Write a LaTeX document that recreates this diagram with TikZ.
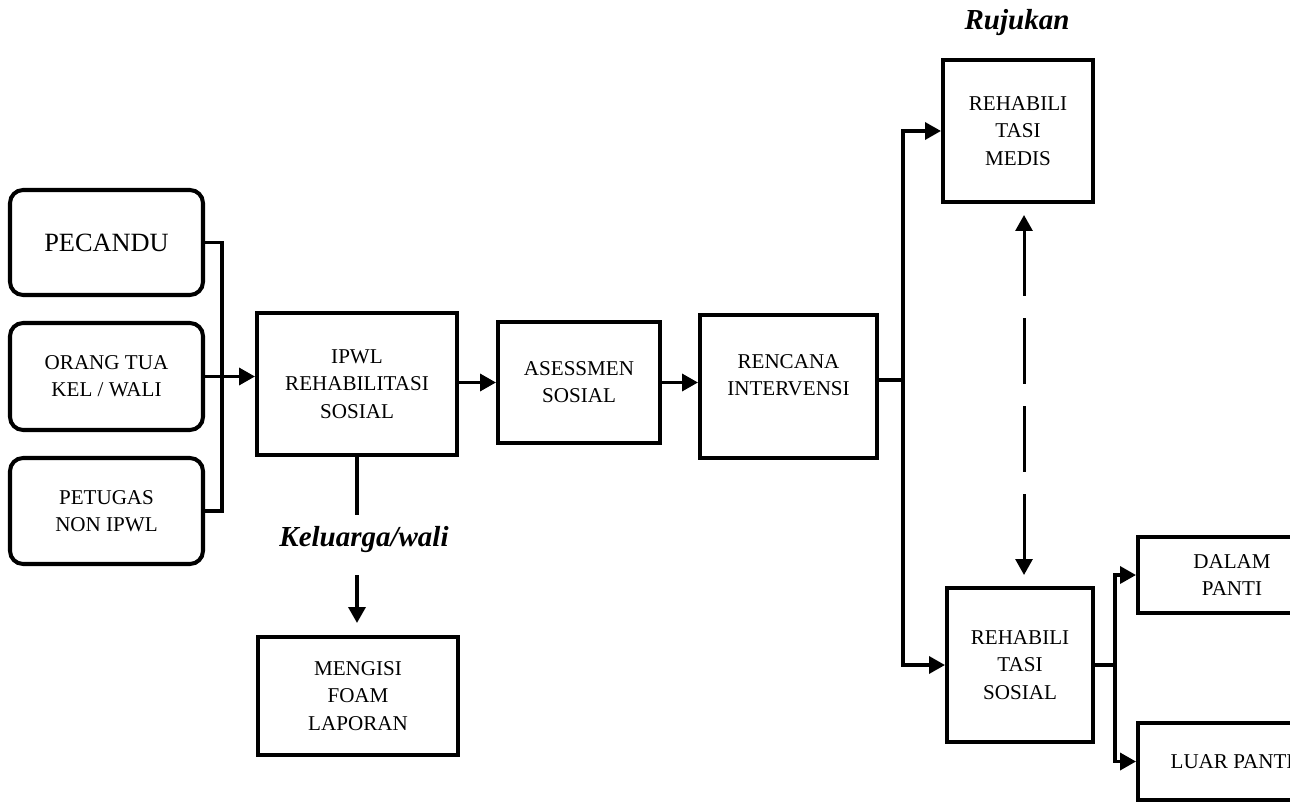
\documentclass[tikz,border=0pt]{standalone}
\usepackage{fontspec}
\setmainfont{Liberation Serif}
\usetikzlibrary{arrows.meta}
\tikzset{
	box/.style={draw, line width=2.3pt, align=center, inner sep=2pt, font=\fontsize{12}{15.5}\selectfont},
	rbox/.style={box, rounded corners=0.26cm},
	link/.style={line width=2pt},
	tag/.style={font=\fontsize{16.5}{18}\selectfont\bfseries\itshape},
}

\begin{document}
\begin{tikzpicture}[x=0.02cm, y=-0.02cm, >={Triangle[length=0.32cm,width=0.34cm]}]
			\useasboundingbox (0,0) rectangle (1290,803);
			\clip (0,0) rectangle (1290,803);
			% sources
			\node[rbox, minimum width=3.86cm, minimum height=2.1cm, font=\fontsize{15}{18}\selectfont] (PECANDU) at (106.5,242.5) {PECANDU};
			\node[rbox, minimum width=3.86cm, minimum height=2.14cm] (ORANG) at (106.5,376.5) {ORANG TUA\\KEL / WALI};
			\node[rbox, minimum width=3.86cm, minimum height=2.12cm] (PETUGAS) at (106.5,511) {PETUGAS\\NON IPWL};
			% main line
			\node[box, minimum width=4cm, minimum height=2.84cm] (IPWL) at (357,384) {IPWL\\REHABILITASI\\SOSIAL};
			\node[box, minimum width=3.24cm, minimum height=2.42cm] (ASESSMEN) at (579,382.5) {ASESSMEN\\SOSIAL};
			\node[box, minimum width=3.54cm, minimum height=2.86cm] (RENCANA) at (788.5,386.5) {RENCANA\\INTERVENSI\\[-2.5pt]\mbox{}};
			\node[box, minimum width=4cm, minimum height=2.36cm] (MENGISI) at (358,696) {MENGISI\\FOAM\\LAPORAN};
			% referral side
			\node[box, minimum width=3cm, minimum height=2.84cm] (MEDIS) at (1018,131) {REHABILI\\TASI\\MEDIS};
			\node[box, minimum width=2.92cm, minimum height=3.08cm] (SOSIAL) at (1020,665) {REHABILI\\TASI\\SOSIAL};
			\node[box, minimum width=3.76cm, minimum height=1.52cm] (DALAM) at (1232,575) {DALAM\\PANTI};
			\node[box, minimum width=3.76cm, minimum height=1.54cm] (LUAR) at (1232,761.5) {LUAR PANTI};
			% labels
			\node[tag] (rujukan) at (1017,23) {Rujukan};
			\node[tag] (keluarga) at (364,540) {Keluarga/wali};
			% coordinates
			\coordinate (join) at (222,380);
			\coordinate (fork) at (903,380);
			\coordinate (split) at (1115,665);
			\coordinate (mid) at (1024,395);
			\coordinate (kwtop) at (357,515);
			\coordinate (kwbot) at (357,575);
			% connectors
			\draw[link] (PECANDU.east) -| (join) |- (PETUGAS.east);
			\draw[link, ->] (ORANG.east) -- (ORANG.east -| IPWL.west);
			\draw[link, ->] (IPWL.east |- ASESSMEN) -- (ASESSMEN.west);
			\draw[link, ->] (ASESSMEN.east) -- (ASESSMEN.east -| RENCANA.west);
			\draw[link] (RENCANA.east |- fork) -- (fork);
			\draw[link, ->] (fork) |- (MEDIS.west);
			\draw[link, ->] (fork) |- (SOSIAL.west);
			\draw[line width=1.7pt, <->, dash pattern=on 1.32cm off 0.44cm, shorten <=0.22cm, shorten >=0.22cm] (MEDIS.south -| mid) -- (SOSIAL.north -| mid);
			\draw[link] (SOSIAL.east) -- (split);
			\draw[link, ->] (split) |- (DALAM.west);
			\draw[link, ->] (split) |- (LUAR.west);
			\draw[link] (IPWL.south -| kwtop) -- (kwtop);
			\draw[link, ->, shorten >=0.24cm] (kwbot) -- (MENGISI.north -| kwbot);
		\end{tikzpicture}
\end{document}
